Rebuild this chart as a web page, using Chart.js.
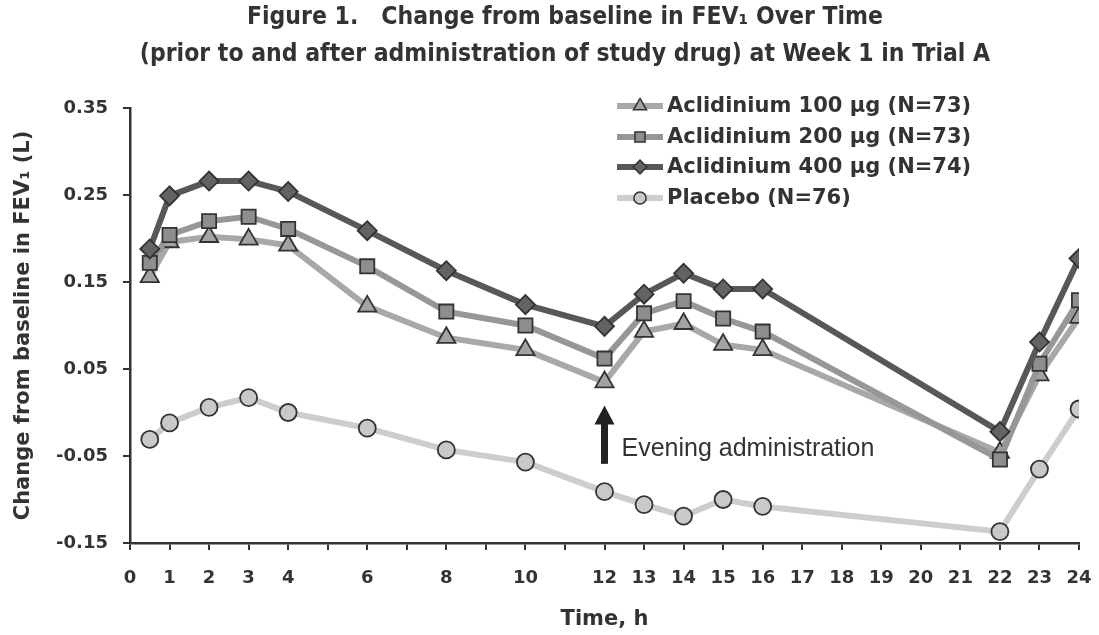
<!DOCTYPE html>
<html>
<head>
<meta charset="utf-8">
<script src="https://cdn.jsdelivr.net/npm/chart.js@4.4.1/dist/chart.umd.min.js"></script>
<style>
  html, body { margin: 0; padding: 0; background: #fff; }
  #wrap { width: 1099px; height: 635px; }
</style>
</head>
<body>
<div id="wrap"><canvas id="fevChart" width="1099" height="635"></canvas></div>
<script>
// Data
const hours = [0.5, 1, 2, 3, 4, 6, 8, 10, 12, 13, 14, 15, 16, 22, 23, 24];
const acl100 = [0.156, 0.196, 0.202, 0.199, 0.192, 0.122, 0.086, 0.072, 0.035, 0.093, 0.102, 0.078, 0.072, -0.046, 0.043, 0.109];
const acl200 = [0.172, 0.204, 0.220, 0.225, 0.211, 0.168, 0.116, 0.100, 0.062, 0.114, 0.128, 0.108, 0.093, -0.054, 0.056, 0.129];
const acl400 = [0.188, 0.249, 0.266, 0.266, 0.254, 0.209, 0.163, 0.124, 0.099, 0.136, 0.160, 0.142, 0.142, -0.022, 0.081, 0.177];
const placebo = [-0.031, -0.012, 0.006, 0.017, 0.000, -0.018, -0.043, -0.057, -0.091, -0.106, -0.119, -0.100, -0.108, -0.137, -0.065, 0.004];

const seriesLabels = ['Aclidinium 100 µg (N=73)', 'Aclidinium 200 µg (N=73)', 'Aclidinium 400 µg (N=74)', 'Placebo (N=76)'];

// Axis ticks
const xTicks = [0, 1, 2, 3, 4, 5, 6, 7, 8, 9, 10, 11, 12, 13, 14, 15, 16, 17, 18, 19, 20, 21, 22, 23, 24];
const xTickLabels = [0, 1, 2, 3, 4, 6, 8, 10, 12, 13, 14, 15, 16, 17, 18, 19, 20, 21, 22, 23, 24];
const yTicks = [-0.15, -0.05, 0.05, 0.15, 0.25, 0.35];

// Annotation (value space)
const noteHour = 12;
const noteArrowFrom = -0.059;
const noteArrowTo = 0.008;
const noteTextAt = -0.042;
const noteText = 'Evening administration';

const titleLines = ['Figure 1.   Change from baseline in FEV\u2081 Over Time',
                    '(prior to and after administration of study drug) at Week 1 in Trial A'];

const BOLD = '"DejaVu Sans", "Liberation Sans", sans-serif';

function toPoints(values) {
    return hours.map((h, i) => ({ x: h, y: values[i] }));
}

const styles = [
    { line: '#a8a8a8', fill: '#a3a3a3', shape: 'triangle', r: 10.5 },
    { line: '#979797', fill: '#8e8e8e', shape: 'rect', r: 10 },
    { line: '#585858', fill: '#636363', shape: 'rectRot', r: 9.5 },
    { line: '#cdcdcd', fill: '#c9c9c9', shape: 'circle', r: 8.5 }
];
const seriesValues = [acl100, acl200, acl400, placebo];

const datasets = seriesValues.map((vals, i) => ({
    label: seriesLabels[i],
    data: toPoints(vals),
    borderColor: styles[i].line,
    borderWidth: 6,
    pointStyle: styles[i].shape,
    pointRadius: styles[i].r,
    pointBackgroundColor: styles[i].fill,
    pointBorderColor: '#333',
    pointBorderWidth: 1.8,
    tension: 0,
    order: [2, 1, 0, 3][i]
}));

// Title, legend and the arrow note
const decorPlugin = {
    id: 'decor',
    afterDatasetsDraw(chart) {
        const ctx = chart.ctx;
        const xs = chart.scales.x, ys = chart.scales.y;
        const x = xs.getPixelForValue(noteHour);
        const yBase = ys.getPixelForValue(noteArrowFrom);
        const yTip = ys.getPixelForValue(noteArrowTo);
        ctx.save();
        ctx.fillStyle = '#222';
        ctx.fillRect(x - 3.5, yTip + 16, 7, yBase - yTip - 16);
        ctx.beginPath();
        ctx.moveTo(x, yTip);
        ctx.lineTo(x + 10, yTip + 19);
        ctx.lineTo(x - 10, yTip + 19);
        ctx.closePath();
        ctx.fill();
        ctx.fillStyle = '#333';
        ctx.font = '25px "Liberation Sans", Arial, sans-serif';
        ctx.textBaseline = 'middle';
        ctx.textAlign = 'left';
        ctx.fillText(noteText, x + 17, ys.getPixelForValue(noteTextAt));
        ctx.restore();
    },
    afterDraw(chart) {
        const ctx = chart.ctx;
        ctx.save();
        // title
        ctx.fillStyle = '#333';
        ctx.font = 'bold 24.5px "DejaVu Sans Condensed", "Liberation Sans Narrow", sans-serif';
        ctx.textAlign = 'center';
        ctx.textBaseline = 'middle';
        ctx.fillText(titleLines[0], 565, 18);
        ctx.fillText(titleLines[1], 565, 55);
        // legend
        const rows = [106, 137, 167, 198];
        ctx.textAlign = 'left';
        ctx.font = 'bold 21px ' + BOLD;
        rows.forEach((y, i) => {
            ctx.strokeStyle = styles[i].line;
            ctx.lineWidth = 6;
            ctx.beginPath();
            ctx.moveTo(617, y);
            ctx.lineTo(663, y);
            ctx.stroke();
            ctx.fillStyle = styles[i].fill;
            ctx.strokeStyle = '#333';
            ctx.lineWidth = 1.5;
            Chart.helpers.drawPoint(ctx, { pointStyle: styles[i].shape, radius: styles[i].r * 0.72, rotation: 0, borderWidth: 1.5 }, 640, y);
            ctx.fillStyle = '#333';
            ctx.fillText(seriesLabels[i], 667, y + 1);
        });
        ctx.restore();
    }
};

new Chart(document.getElementById('fevChart'), {
    type: 'line',
    data: { datasets },
    plugins: [decorPlugin],
    options: {
        responsive: false,
        animation: false,
        events: [],
        layout: { padding: { top: 108, right: 20, left: 0, bottom: 0 } },
        plugins: {
            legend: { display: false },
            tooltip: { enabled: false },
            title: { display: false }
        },
        scales: {
            x: {
                type: 'linear',
                min: 0,
                max: 24,
                afterBuildTicks: scale => { scale.ticks = xTicks.map(v => ({ value: v })); },
                afterFit: scale => {
                    scale.height = 92;
                    scale.paddingLeft = 0;
                    scale.paddingRight = 0;
                },
                grid: { display: true, drawOnChartArea: false, tickLength: 7, color: '#333', lineWidth: 2 },
                border: { display: true, color: '#333', width: 2.5 },
                ticks: {
                    autoSkip: false,
                    maxRotation: 0,
                    padding: 18,
                    color: '#333',
                    font: { family: BOLD, weight: 'bold', size: 18 },
                    callback: v => xTickLabels.includes(v) ? String(v) : ''
                },
                title: {
                    display: true,
                    text: 'Time, h',
                    color: '#333',
                    font: { family: BOLD, weight: 'bold', size: 21 },
                    padding: { top: 0, bottom: 3 }
                }
            },
            y: {
                min: -0.15,
                max: 0.35,
                afterBuildTicks: scale => { scale.ticks = yTicks.map(v => ({ value: v })); },
                afterFit: scale => { scale.width = 130; },
                grid: { display: true, drawOnChartArea: false, tickLength: 7, color: '#333', lineWidth: 2 },
                border: { display: true, color: '#333', width: 2.5 },
                ticks: {
                    padding: 15,
                    color: '#333',
                    font: { family: BOLD, weight: 'bold', size: 18 },
                    callback: v => v.toFixed(2)
                },
                title: {
                    display: true,
                    text: 'Change from baseline in FEV\u2081 (L)',
                    color: '#333',
                    font: { family: BOLD, weight: 'bold', size: 21 },
                    padding: { top: 11, bottom: 0 }
                }
            }
        }
    }
});
</script>
</body>
</html>
